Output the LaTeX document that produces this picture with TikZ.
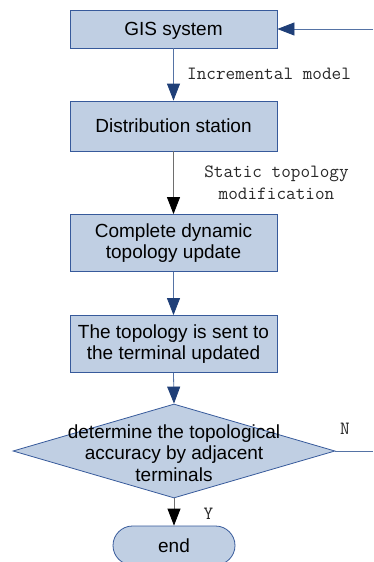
\documentclass[tikz,border=0pt]{standalone}
\usepackage{fontspec}
\setmainfont{Liberation Sans}
\usetikzlibrary{shapes.geometric,arrows.meta}
\definecolor{boxfill}{RGB}{192,207,227}
\definecolor{boxline}{RGB}{55,90,155}
\definecolor{navy}{RGB}{31,63,120}
\definecolor{shaftblue}{RGB}{85,115,165}
\definecolor{shaftgray}{RGB}{110,110,110}
\definecolor{labelgray}{RGB}{40,40,40}
\begin{document}
\begin{tikzpicture}[x=1pt,y=-1pt,
  proc/.style={draw=boxline,fill=boxfill,line width=0.8pt,minimum width=207pt,
    align=center,inner sep=0pt,font=\fontsize{19}{21}\selectfont},
  oneline/.style={text height=13.6pt,text depth=0pt},
  decision/.style={diamond,draw=boxline,fill=boxfill,line width=0.8pt,
    minimum width=322pt,minimum height=94pt,inner sep=0pt},
  endbox/.style={draw=boxline,fill=boxfill,line width=0.8pt,rounded corners=19.5pt,
    minimum width=122pt,minimum height=39pt,inner sep=0pt,font=\fontsize{19}{20.5}\selectfont},
  dectext/.style={align=center,inner sep=0pt,font=\fontsize{19}{21.5}\selectfont},
  bluearrow/.style={draw=shaftblue,line width=0.8pt,
    -{Triangle[length=17pt,width=13pt,color=navy,fill=navy]}},
  blackarrow/.style={draw=shaftgray,line width=0.8pt,
    -{Triangle[length=17pt,width=13pt,color=black,fill=black]}},
  plainline/.style={draw=shaftblue,line width=0.8pt},
  monolabel/.style={inner sep=0pt,text=labelgray,font=\fontsize{18.7}{22}\ttfamily}
]
\useasboundingbox (0,0) rectangle (373,562);

\node[proc,oneline,minimum height=38pt] (gis) at (173.5,29) {GIS system};
\node[proc,oneline,minimum height=50pt] (dist) at (173.5,126) {Distribution station};
\node[proc,minimum height=57pt] (dyn) at (173.5,243) {Complete dynamic\\topology update};
\node[proc,minimum height=57pt] (sent) at (173.5,344) {The topology is sent to\\the terminal updated};
\node[decision] (dec) at (174,451) {};
\node[dectext] (dect) at (174,453) {determine the topological\\accuracy by adjacent\\terminals};
\node[endbox,oneline] (end) at (174,545.5) {end};

\coordinate (nout) at (373,451);
\coordinate (gisin) at (373,29);

\draw[bluearrow] (gis.south) -- (dist.north);
\draw[blackarrow] (dist.south) -- (dyn.north);
\draw[bluearrow] (dyn.south) -- (sent.north);
\draw[bluearrow] (sent.south) -- (dec.north);
\draw[blackarrow] (dec.south) -- (end.north);
\draw[plainline] (dec.east) -- (nout);
\draw[bluearrow] (gisin) -- (gis.east);

\node[monolabel,anchor=base west] (lincr) at (187,79) {Incremental model};
\node[monolabel,anchor=base,align=center] (lstatic) at (276.5,199) {Static topology\\modification};
\node[monolabel,anchor=base] (ly) at (208.5,519) {Y};
\node[monolabel,anchor=base] (ln) at (345,434) {N};
\end{tikzpicture}
\end{document}
